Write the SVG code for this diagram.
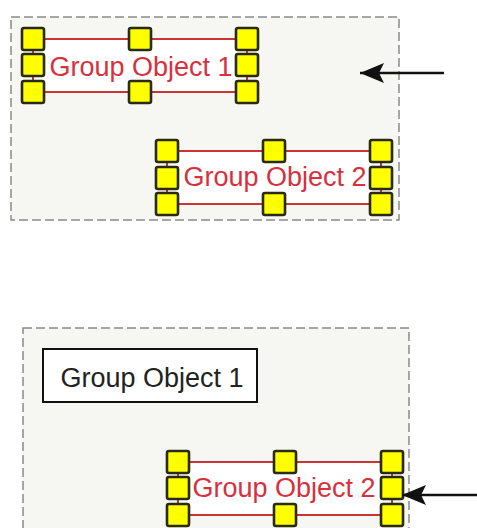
<svg xmlns="http://www.w3.org/2000/svg" width="477" height="528" viewBox="0 0 477 528">
<defs>
<style>
.grp{fill:#f6f6f3;stroke:#8a8a8a;stroke-width:1.5;stroke-dasharray:9,4}
.sel{fill:#ffffff;stroke:#cc3333;stroke-width:2}
.h{fill:#ffff00;stroke:#2a2a10;stroke-width:2.6}
.tr{font-family:"Liberation Sans",Arial,sans-serif;font-size:27px;fill:#d8303c;text-anchor:middle}
.tb{font-family:"Liberation Sans",Arial,sans-serif;font-size:27px;fill:#222;text-anchor:middle}
.box{fill:#ffffff;stroke:#111;stroke-width:2}
.arr{stroke:#111;stroke-width:2.5;fill:none;marker-end:url(#ah)}
</style>
<marker id="ah" viewBox="0 0 24 22" refX="24" refY="11" markerWidth="24" markerHeight="22" markerUnits="userSpaceOnUse" orient="auto">
<polygon points="0,1 24,11 0,21 5,11" fill="#111"/>
</marker>
<symbol id="hd" overflow="visible"><rect class="h" x="-11" y="-11" width="22" height="22" rx="2"/></symbol>
</defs>

<g id="group-top">
<rect class="grp" x="11" y="17" width="388" height="203"/>
</g>

<g id="top-object1">
<rect class="sel" x="33" y="39" width="214" height="53"/>
<text class="tr" x="141" y="76">Group Object 1</text>
<use href="#hd" x="33" y="39"/><use href="#hd" x="140" y="39"/><use href="#hd" x="247" y="39"/>
<use href="#hd" x="33" y="65"/><use href="#hd" x="247" y="65"/>
<use href="#hd" x="33" y="92"/><use href="#hd" x="140" y="92"/><use href="#hd" x="247" y="92"/>
</g>

<g id="top-object2">
<rect class="sel" x="167" y="151" width="214" height="53"/>
<text class="tr" x="275" y="186">Group Object 2</text>
<use href="#hd" x="167" y="151"/><use href="#hd" x="274" y="151"/><use href="#hd" x="381" y="151"/>
<use href="#hd" x="167" y="178"/><use href="#hd" x="381" y="178"/>
<use href="#hd" x="167" y="204"/><use href="#hd" x="274" y="204"/><use href="#hd" x="381" y="204"/>
</g>

<g id="group-bottom">
<rect class="grp" x="23" y="328" width="386" height="215"/>
</g>

<g id="bottom-object1">
<rect class="box" x="43" y="349" width="214" height="53"/>
<text class="tb" x="152" y="387">Group Object 1</text>
</g>

<g id="bottom-object2">
<rect class="sel" x="178" y="462" width="214" height="53"/>
<text class="tr" x="284" y="497">Group Object 2</text>
<use href="#hd" x="178" y="462"/><use href="#hd" x="285" y="462"/><use href="#hd" x="392" y="462"/>
<use href="#hd" x="178" y="488"/><use href="#hd" x="392" y="488"/>
<use href="#hd" x="178" y="515"/><use href="#hd" x="285" y="515"/><use href="#hd" x="392" y="515"/>
</g>

<g id="connectors">
<line class="arr" x1="444" y1="73" x2="360" y2="73"/>
<line class="arr" x1="477" y1="495" x2="402" y2="495"/>
</g>
</svg>
